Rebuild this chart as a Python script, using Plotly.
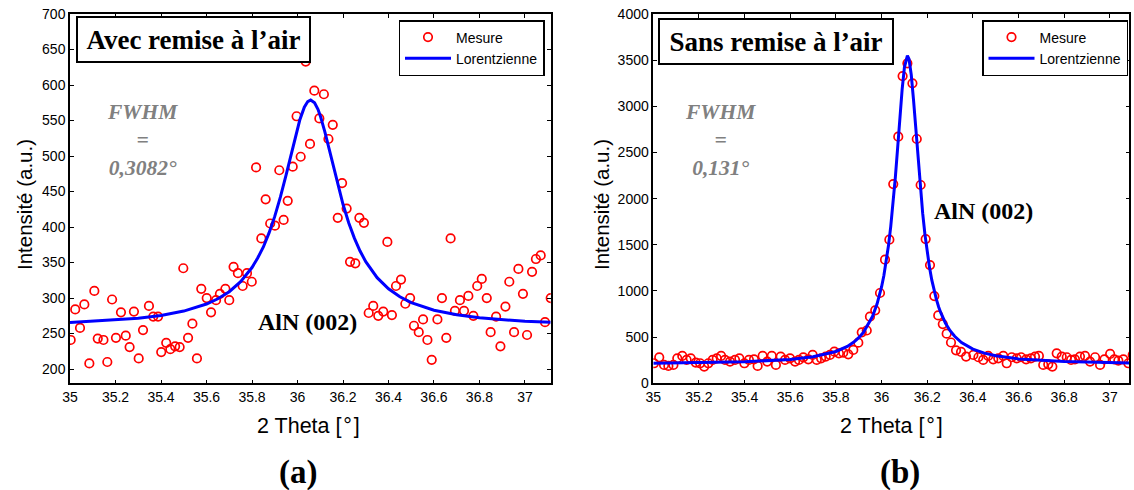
import plotly.graph_objects as go

W, H = 1134, 490

# ---------------- data: (a) Avec remise à l'air ----------------
a_x = [35.003, 35.023, 35.044, 35.063, 35.085, 35.107, 35.122, 35.147, 35.164, 35.185,
       35.202, 35.224, 35.245, 35.262, 35.281, 35.302, 35.321, 35.347, 35.366, 35.387,
       35.401, 35.423, 35.441, 35.462, 35.482, 35.498, 35.519, 35.538, 35.558, 35.577,
       35.601, 35.620, 35.642, 35.659, 35.683, 35.700, 35.719, 35.738, 35.759, 35.778,
       35.799, 35.818, 35.841, 35.860, 35.880, 35.901, 35.920, 35.939, 35.957, 35.979,
       35.996, 36.014, 36.036, 36.055, 36.074, 36.096, 36.116, 36.136, 36.155, 36.177,
       36.196, 36.216, 36.231, 36.254, 36.272, 36.292, 36.313, 36.333, 36.355, 36.377,
       36.395, 36.415, 36.433, 36.455, 36.474, 36.495, 36.512, 36.533, 36.552, 36.571,
       36.590, 36.615, 36.635, 36.654, 36.673, 36.692, 36.714, 36.732, 36.751, 36.773,
       36.790, 36.810, 36.832, 36.849, 36.873, 36.892, 36.914, 36.931, 36.952, 36.971,
       36.991, 37.009, 37.031, 37.048, 37.069, 37.088, 37.113]
a_y = [241, 284, 258, 291, 208, 310, 243, 241, 210, 298,
       244, 280, 247, 231, 281, 215, 255, 289, 274, 274,
       224, 237, 228, 232, 231, 342, 244, 264, 215, 313,
       300, 280, 297, 306, 313, 297, 344, 335, 317, 335,
       323, 484, 384, 439, 405, 402, 480, 410, 437, 485,
       556, 499, 633, 517, 592, 553, 587, 524, 544, 413,
       462, 426, 351, 349, 413, 406, 279, 289, 275, 281,
       379, 276, 317, 326, 292, 300, 261, 252, 270, 241,
       213, 270, 300, 244, 384, 282, 297, 282, 303, 275,
       317, 327, 300, 252, 274, 232, 288, 323, 252, 341,
       306, 248, 337, 355, 360, 266, 300]
a_fit_x = [35.0, 35.2, 35.3, 35.4, 35.5, 35.6, 35.65, 35.7, 35.75, 35.8, 35.825, 35.85,
           35.875, 35.9, 35.925, 35.95, 35.98, 36.0, 36.01, 36.03, 36.045, 36.058, 36.075,
           36.09, 36.1, 36.12, 36.15, 36.175, 36.2, 36.225, 36.25, 36.275, 36.3, 36.35,
           36.4, 36.45, 36.5, 36.6, 36.7, 36.8, 36.9, 37.0, 37.113]
a_fit_y = [265.6, 269, 271.7, 275.6, 281.7, 291.6, 299, 309, 323, 343, 356.4, 372,
           391.8, 415, 442.4, 473.6, 513.7, 539.3, 550.7, 568.8, 576.7, 579, 575.1,
           565.8, 556.9, 534.4, 494.9, 462, 432.1, 406.2, 384.4, 366.3, 351.3, 328.7,
           313, 301.8, 293.7, 282.9, 276.4, 272.2, 269.4, 267.3, 265.8]

# ---------------- data: (b) Sans remise à l'air ----------------
b_x = [35.003, 35.026, 35.047, 35.066, 35.088, 35.105, 35.127, 35.146, 35.164, 35.186,
       35.205, 35.223, 35.241, 35.260, 35.278, 35.297, 35.314, 35.336, 35.358, 35.377,
       35.399, 35.419, 35.441, 35.457, 35.479, 35.499, 35.519, 35.537, 35.558, 35.577,
       35.599, 35.621, 35.638, 35.657, 35.679, 35.698, 35.716, 35.735, 35.755, 35.774,
       35.793, 35.813, 35.832, 35.854, 35.876, 35.898, 35.913, 35.935, 35.949, 35.972,
       35.993, 36.015, 36.034, 36.051, 36.073, 36.092, 36.113, 36.135, 36.154, 36.171,
       36.193, 36.212, 36.231, 36.248, 36.268, 36.285, 36.304, 36.326, 36.348, 36.370,
       36.402, 36.424, 36.445, 36.467, 36.489, 36.511, 36.533, 36.548, 36.570, 36.592,
       36.611, 36.633, 36.654, 36.672, 36.689, 36.708, 36.730, 36.748, 36.767, 36.789,
       36.811, 36.830, 36.847, 36.869, 36.891, 36.913, 36.935, 36.957, 36.976, 37.001,
       37.019, 37.037, 37.059, 37.081, 37.100]
b_y = [217, 281, 199, 188, 199, 271, 296, 253, 271, 224,
       217, 181, 217, 253, 271, 296, 253, 235, 253, 271,
       217, 253, 260, 188, 296, 235, 296, 199, 289, 253,
       271, 235, 253, 281, 260, 307, 253, 271, 289, 307,
       343, 325, 332, 314, 361, 440, 552, 572, 722, 790,
       978, 1339, 1556, 2158, 2671, 3328, 3466, 3249, 2646, 2148,
       1562, 1281, 945, 735, 642, 538, 442, 357, 340, 290,
       307, 282, 253, 296, 260, 271, 296, 217, 282, 271,
       282, 260, 271, 289, 296, 199, 206, 181, 325, 289,
       282, 253, 260, 289, 296, 235, 282, 199, 260, 318,
       260, 246, 260, 217, 307]
b_fit_x = [35.0, 35.2, 35.4, 35.6, 35.7, 35.8, 35.85, 35.88, 35.9, 35.92, 35.95, 35.96,
           35.98, 35.99, 36.0, 36.01, 36.02, 36.03, 36.04, 36.05, 36.06, 36.07, 36.08,
           36.09, 36.1, 36.11, 36.113, 36.12, 36.13, 36.14, 36.15, 36.16, 36.17, 36.18,
           36.19, 36.2, 36.21, 36.22, 36.23, 36.24, 36.25, 36.26, 36.28, 36.3, 36.32,
           36.35, 36.4, 36.45, 36.5, 36.6, 36.8, 37.0, 37.1]
b_fit_y = [216.5, 222, 233, 259, 287, 345, 400, 450, 494, 550, 670, 723,
           858, 944, 1046, 1168, 1314, 1489, 1697, 1943, 2226, 2542, 2873,
           3183, 3423, 3543, 3550, 3512, 3339, 3064, 2741, 2413, 2109, 1840,
           1609, 1415, 1253, 1117, 1003, 908, 827, 759, 651, 570, 509,
           442, 371, 327, 298, 264, 235, 223, 220]

x_ticks = [35, 35.2, 35.4, 35.6, 35.8, 36, 36.2, 36.4, 36.6, 36.8, 37]
x_ticktext = ["35", "35.2", "35.4", "35.6", "35.8", "36", "36.2", "36.4", "36.6", "36.8", "37"]
a_yticks = [200, 250, 300, 350, 400, 450, 500, 550, 600, 650, 700]
b_yticks = [0, 500, 1000, 1500, 2000, 2500, 3000, 3500, 4000]

RED = "#FF0000"
BLUE = "#0000FF"
GRAY = "#808080"
SERIF = "Liberation Serif"
SANS = "Arial, Liberation Sans"

fig = go.Figure()

marker = dict(symbol="circle-open", size=8.5, color=RED, line=dict(width=1.7, color=RED))
fig.add_trace(go.Scatter(x=a_x, y=a_y, mode="markers", marker=marker, name="Mesure",
                         xaxis="x", yaxis="y", legend="legend"))
fig.add_trace(go.Scatter(x=a_fit_x, y=a_fit_y, mode="lines", line=dict(color=BLUE, width=3),
                         name="Lorentzienne", xaxis="x", yaxis="y", legend="legend"))
fig.add_trace(go.Scatter(x=b_x, y=b_y, mode="markers", marker=marker, name="Mesure",
                         xaxis="x2", yaxis="y2", legend="legend2"))
fig.add_trace(go.Scatter(x=b_fit_x, y=b_fit_y, mode="lines", line=dict(color=BLUE, width=3),
                         name="Lorentzienne", xaxis="x2", yaxis="y2", legend="legend2"))

ydom = [1 - 383.3 / H, 1 - 14 / H]
axis_common = dict(showline=True, linecolor="black", linewidth=1.5, mirror="allticks",
                   ticks="inside", ticklen=4, tickwidth=1, tickcolor="black",
                   showgrid=False, zeroline=False, automargin=False,
                   tickfont=dict(family=SANS, size=14, color="black"))

legend_common = dict(bgcolor="white", bordercolor="black", borderwidth=1.5,
                     font=dict(family=SANS, size=14, color="black"), tracegroupgap=0,
                     itemwidth=46, y=1 - 20 / H, yanchor="top", xanchor="left")

fig.update_layout(
    width=W, height=H,
    margin=dict(l=0, r=0, t=0, b=0, autoexpand=False),
    paper_bgcolor="white", plot_bgcolor="white",
    xaxis=dict(domain=[70 / W, 550.7 / W], range=[35, 37.113], anchor="y",
               tickvals=x_ticks, ticktext=x_ticktext, **axis_common),
    yaxis=dict(domain=ydom, range=[180, 700], anchor="x",
               tickvals=a_yticks, **axis_common),
    xaxis2=dict(domain=[653.3 / W, 1129.3 / W], range=[35, 37.085], anchor="y2",
                tickvals=x_ticks, ticktext=x_ticktext, **axis_common),
    yaxis2=dict(domain=ydom, range=[0, 4000], anchor="x2",
                tickvals=b_yticks, **axis_common),
    legend=dict(x=398.5 / W, **legend_common),
    legend2=dict(x=982 / W, **legend_common),
    showlegend=True,
)

ann = []
# title boxes
ann.append(dict(text="<b>Avec remise à l’air</b>", xref="x", yref="y", x=35.543, y=664,
                xanchor="center", yanchor="middle", showarrow=False,
                font=dict(family=SERIF, size=27, color="black"),
                bordercolor="black", borderwidth=2, borderpad=0, bgcolor="white",
                width=231, height=43))
ann.append(dict(text="<b>Sans remise à l’air</b>", xref="x2", yref="y2", x=35.539, y=3700,
                xanchor="center", yanchor="middle", showarrow=False,
                font=dict(family=SERIF, size=27, color="black"),
                bordercolor="black", borderwidth=2, borderpad=0, bgcolor="white",
                width=232, height=43))
# FWHM
ann.append(dict(text="<b><i>FWHM<br>=<br>0,3082°</i></b>", xref="x", yref="y", x=35.319, y=522.7,
                xanchor="center", yanchor="middle", showarrow=False, align="center",
                font=dict(family=SERIF, size=21.5, color=GRAY)))
ann.append(dict(text="<b><i>FWHM<br>=<br>0,131°</i></b>", xref="x2", yref="y2", x=35.296, y=2635,
                xanchor="center", yanchor="middle", showarrow=False, align="center",
                font=dict(family=SERIF, size=21.5, color=GRAY)))
# AlN (002)
ann.append(dict(text="<b>AlN (002)</b>", xref="x", yref="y", x=36.044, y=267,
                xanchor="center", yanchor="middle", showarrow=False,
                font=dict(family=SERIF, size=24, color="black")))
ann.append(dict(text="<b>AlN (002)</b>", xref="x2", yref="y2", x=36.445, y=1866,
                xanchor="center", yanchor="middle", showarrow=False,
                font=dict(family=SERIF, size=24, color="black")))
# axis titles
for xc in (24, 601):
    ann.append(dict(text="Intensité (a.u.)", xref="paper", yref="paper", x=xc / W, y=1 - 205 / H,
                    xanchor="center", yanchor="middle", textangle=-90, showarrow=False,
                    font=dict(family=SANS, size=20.5, color="black")))
for xc in (308.5, 891.5):
    ann.append(dict(text="2 Theta [\u200a°\u200a]", xref="paper", yref="paper", x=xc / W, y=1 - 426 / H,
                    xanchor="center", yanchor="middle", showarrow=False,
                    font=dict(family=SANS, size=21.5, color="black")))
# panel labels
ann.append(dict(text="<b>(a)</b>", xref="paper", yref="paper", x=298 / W, y=1 - 472 / H,
                xanchor="center", yanchor="middle", showarrow=False,
                font=dict(family=SERIF, size=33, color="black")))
ann.append(dict(text="<b>(b)</b>", xref="paper", yref="paper", x=900 / W, y=1 - 472 / H,
                xanchor="center", yanchor="middle", showarrow=False,
                font=dict(family=SERIF, size=33, color="black")))
fig.update_layout(annotations=ann)

fig.write_html("out.html", config={"displayModeBar": False},
               post_script="document.body.style.margin='0';document.body.style.padding='0';")
